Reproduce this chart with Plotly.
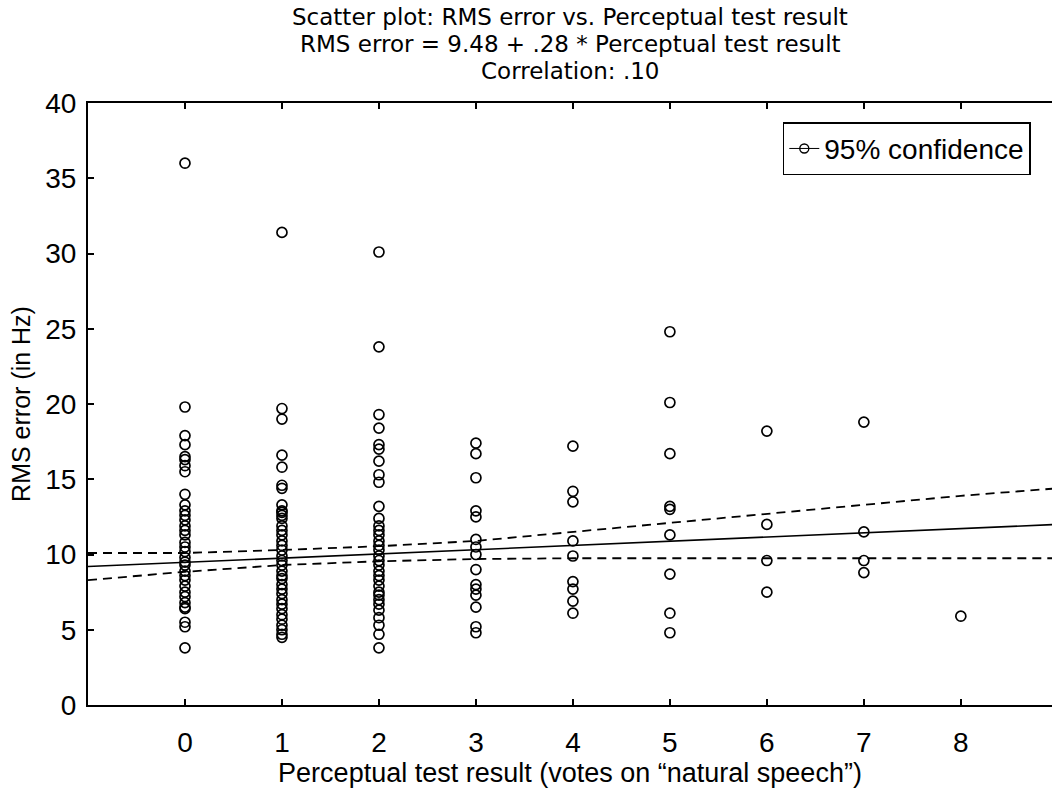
import plotly.graph_objects as go

# ---- data ----
categories = [0, 1, 2, 3, 4, 5, 6, 7, 8]
rms_col0 = [36.0, 19.8, 17.9, 17.3, 16.5, 16.3, 15.9, 15.5, 14.0, 13.3, 12.9, 12.6, 12.3,
            11.9, 11.6, 11.3, 10.8, 10.5, 10.2, 9.8, 9.5, 9.3, 8.9, 8.6, 8.3, 7.9, 7.5,
            7.2, 6.8, 6.5, 6.4, 5.5, 5.2, 3.8]
rms_col1 = [31.4, 19.7, 19.0, 16.6, 15.8, 14.6, 14.4, 13.3, 12.9, 12.8, 12.6, 12.4, 11.9,
            11.6, 11.3, 10.9, 10.6, 10.3, 9.9, 9.6, 9.3, 8.9, 8.6, 8.4, 8.0, 7.7, 7.4,
            7.0, 6.7, 6.4, 6.0, 5.7, 5.3, 5.0, 4.7, 4.5]
rms_col2 = [30.1, 23.8, 19.3, 18.4, 17.3, 17.0, 16.2, 15.3, 14.8, 13.2, 12.4, 11.9, 11.6,
            11.3, 10.9, 10.6, 10.3, 9.9, 9.6, 9.3, 8.9, 8.6, 8.3, 7.9, 7.5, 7.3, 7.0,
            6.7, 6.3, 5.8, 5.3, 4.7, 3.8]
rms_col3 = [17.4, 16.7, 15.1, 12.9, 12.5, 11.0, 10.5, 10.0, 9.0, 8.0, 7.7, 7.3, 6.5, 5.2, 4.8]
rms_col4 = [17.2, 14.2, 13.5, 10.9, 9.9, 8.2, 7.7, 6.9, 6.1]
rms_col5 = [24.8, 20.1, 16.7, 13.2, 13.0, 11.3, 8.7, 6.1, 4.8]
rms_col6 = [18.2, 12.0, 9.6, 7.5]
rms_col7 = [18.8, 11.5, 9.6, 8.8]
rms_col8 = [5.9]

# regression line (RMS error = 9.48 + .28 * result), read at the plot edges
fit_x = [-1, 9]
fit_y = [9.20, 12.00]

# 95% confidence band
band_x = [-1, 0, 1, 2, 3, 4, 5, 6, 7, 8, 9]
band_upper = [10.1, 10.1, 10.3, 10.55, 10.9, 11.5, 12.1, 12.7, 13.3, 13.9, 14.4]
band_lower = [8.3, 8.85, 9.3, 9.55, 9.7, 9.75, 9.75, 9.75, 9.75, 9.75, 9.75]

x_ticks = [0, 1, 2, 3, 4, 5, 6, 7, 8]
y_ticks = [0, 5, 10, 15, 20, 25, 30, 35, 40]

title_lines = ["Scatter plot: RMS error vs. Perceptual test result",
               "RMS error = 9.48 + .28 * Perceptual test result",
               "Correlation: .10"]

columns = [rms_col0, rms_col1, rms_col2, rms_col3, rms_col4,
           rms_col5, rms_col6, rms_col7, rms_col8]
xs, ys = [], []
for c, vals in zip(categories, columns):
    xs += [c] * len(vals)
    ys += vals

FONT = "Liberation Sans, Arial, sans-serif"
TFONT = "DejaVu Sans, Liberation Sans, sans-serif"

fig = go.Figure()
fig.add_trace(go.Scatter(x=band_x, y=band_upper, mode="lines",
                         line=dict(color="black", width=1.8, dash="9px,6px"),
                         showlegend=False, hoverinfo="skip"))
fig.add_trace(go.Scatter(x=band_x, y=band_lower, mode="lines",
                         line=dict(color="black", width=1.8, dash="9px,6px"),
                         showlegend=False, hoverinfo="skip"))
fig.add_trace(go.Scatter(x=fit_x, y=fit_y, mode="lines",
                         line=dict(color="black", width=1.6),
                         showlegend=False))
fig.add_trace(go.Scatter(x=xs, y=ys, mode="markers",
                         marker=dict(symbol="circle-open", size=10, color="black",
                                     line=dict(width=1.7, color="black")),
                         showlegend=False))
# legend entry
fig.add_trace(go.Scatter(x=[None], y=[None], mode="lines+markers",
                         name="95% confidence",
                         line=dict(color="black", width=1),
                         marker=dict(symbol="circle-open", size=9, color="black",
                                     line=dict(width=1.4, color="black")),
                         showlegend=True))

# title as three centred lines above the plot
title_y_px = [17, 44, 71]
for txt, py in zip(title_lines, title_y_px):
    fig.add_annotation(text=txt, xref="paper", yref="paper",
                       x=0.5, y=(705 - py) / 602, xanchor="center", yanchor="middle",
                       showarrow=False, borderpad=0,
                       font=dict(family=TFONT, size=23, color="black"))

fig.update_layout(
    width=1052, height=799,
    margin=dict(l=88, r=0, t=103, b=94, autoexpand=False),
    paper_bgcolor="white", plot_bgcolor="white",
    font=dict(family=FONT, color="black", size=26),
    legend=dict(x=0.978, xanchor="right", y=0.968, yanchor="top",
                bordercolor="black", borderwidth=1.5, bgcolor="white",
                font=dict(family=FONT, size=28, color="black"),
                itemwidth=30, tracegroupgap=0),
    showlegend=True,
)
fig.update_xaxes(range=[-1, 8.94], tickmode="array", tickvals=x_ticks,
                 ticktext=[str(t) for t in x_ticks],
                 ticks="inside", ticklen=6, tickwidth=1.5, tickcolor="black",
                 showline=True, linewidth=2, linecolor="black", mirror="ticks",
                 showgrid=False, zeroline=False,
                 tickfont=dict(family=FONT, size=28),
                 ticklabelstandoff=11,
                 title=dict(text="Perceptual test result (votes on \u201cnatural speech\u201d)",
                            font=dict(family=FONT, size=27), standoff=7))
fig.update_yaxes(range=[0, 40], tickmode="array", tickvals=y_ticks,
                 ticktext=[str(t) for t in y_ticks],
                 ticks="inside", ticklen=6, tickwidth=1.5, tickcolor="black",
                 showline=True, linewidth=2, linecolor="black", mirror=False,
                 showgrid=False, zeroline=False,
                 tickfont=dict(family=FONT, size=28),
                 ticklabelstandoff=4,
                 title=dict(text="RMS error (in Hz)",
                            font=dict(family=FONT, size=25), standoff=7))

fig.write_html("out.html")
